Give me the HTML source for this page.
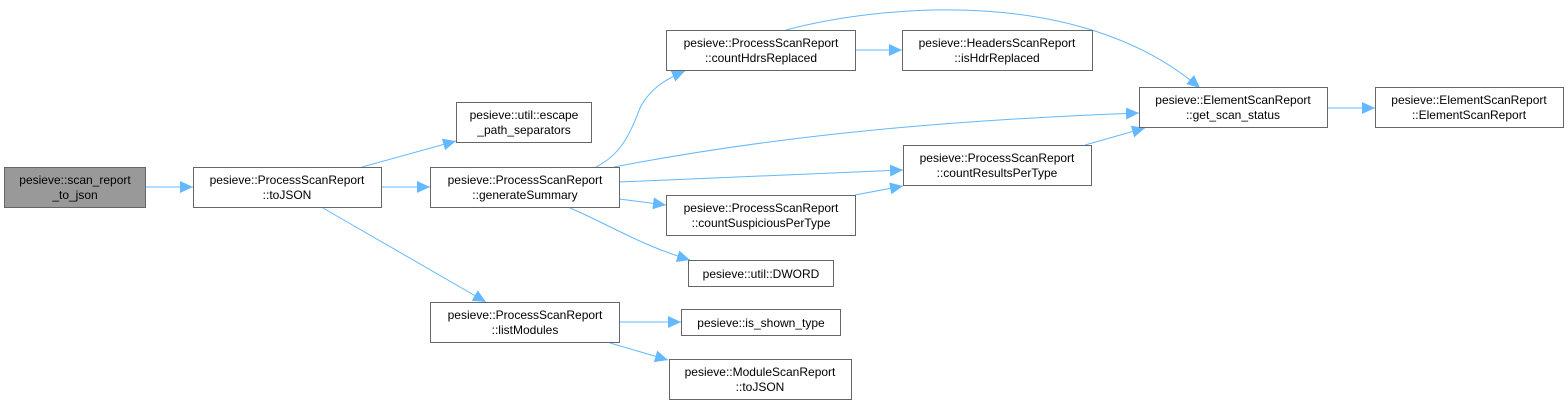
<!DOCTYPE html>
<html><head><meta charset="utf-8"><style>
html,body{margin:0;padding:0;background:#fff;}
svg{display:block;}
text{font-family:"Liberation Sans",Helvetica,Arial,sans-serif;font-size:12px;fill:#000;}
</style></head><body>
<svg width="1568" height="406" viewBox="0 0 1568 406" xmlns="http://www.w3.org/2000/svg">
<defs>
<marker id="a" markerWidth="14" markerHeight="12" refX="13" refY="6" orient="auto" markerUnits="userSpaceOnUse">
<path d="M0,0 L13,6 L0,12 Z" fill="#63b8ff"/>
</marker>
</defs>
<g fill="none" stroke="#63b8ff" stroke-width="1" marker-end="url(#a)">
<path d="M146,187 L193,187"/>
<path d="M362,167 L456,141"/>
<path d="M381,187 L430,187"/>
<path d="M323,208 L486,302"/>
<path d="M596,167 C620,155 630,135 640,108 C650,88 668,78 685,71"/>
<path d="M614,167 C780,135 950,120 1139,113"/>
<path d="M619,182 L903,170"/>
<path d="M619,199 L666,205"/>
<path d="M570,208 C610,225 640,245 690,260"/>
<path d="M855,50 L902,50"/>
<path d="M786,30 C880,5 1080,-15 1200,88"/>
<path d="M1085,145 L1145,128"/>
<path d="M855,195 L903,186"/>
<path d="M1328,108 L1375,108"/>
<path d="M619,322 L681,322"/>
<path d="M610,343 L668,360"/>
</g>
<g stroke="#666" stroke-width="1">
<rect x="4.5" y="167.5" width="141" height="40" fill="#999"/>
<rect x="193.5" y="167.5" width="188" height="40" fill="#fff"/>
<rect x="456.5" y="102.5" width="135" height="40" fill="#fff"/>
<rect x="430.5" y="167.5" width="189" height="40" fill="#fff"/>
<rect x="430.5" y="302.5" width="189" height="40" fill="#fff"/>
<rect x="666.5" y="30.5" width="189" height="40" fill="#fff"/>
<rect x="902.5" y="30.5" width="190" height="40" fill="#fff"/>
<rect x="903.5" y="145.5" width="188" height="40" fill="#fff"/>
<rect x="666.5" y="195.5" width="189" height="40" fill="#fff"/>
<rect x="688.5" y="260.5" width="145" height="26" fill="#fff"/>
<rect x="681.5" y="309.5" width="159" height="26" fill="#fff"/>
<rect x="669.5" y="359.5" width="182" height="40" fill="#fff"/>
<rect x="1139.5" y="87.5" width="188" height="40" fill="#fff"/>
<rect x="1375.5" y="87.5" width="188" height="40" fill="#fff"/>
</g>
<g text-anchor="middle">
<text x="75" y="184">pesieve::scan_report</text><text x="75" y="199">_to_json</text>
<text x="287" y="184">pesieve::ProcessScanReport</text><text x="287" y="199">::toJSON</text>
<text x="524" y="119">pesieve::util::escape</text><text x="524" y="134">_path_separators</text>
<text x="525" y="184">pesieve::ProcessScanReport</text><text x="525" y="199">::generateSummary</text>
<text x="525" y="319">pesieve::ProcessScanReport</text><text x="525" y="334">::listModules</text>
<text x="761" y="47">pesieve::ProcessScanReport</text><text x="761" y="62">::countHdrsReplaced</text>
<text x="997" y="47">pesieve::HeadersScanReport</text><text x="997" y="62">::isHdrReplaced</text>
<text x="997" y="162">pesieve::ProcessScanReport</text><text x="997" y="177">::countResultsPerType</text>
<text x="761" y="212">pesieve::ProcessScanReport</text><text x="761" y="227">::countSuspiciousPerType</text>
<text x="761" y="278">pesieve::util::DWORD</text>
<text x="761" y="327">pesieve::is_shown_type</text>
<text x="760" y="376">pesieve::ModuleScanReport</text><text x="760" y="391">::toJSON</text>
<text x="1233" y="104">pesieve::ElementScanReport</text><text x="1233" y="119">::get_scan_status</text>
<text x="1469" y="104">pesieve::ElementScanReport</text><text x="1469" y="119">::ElementScanReport</text>
</g>
</svg>
</body></html>
